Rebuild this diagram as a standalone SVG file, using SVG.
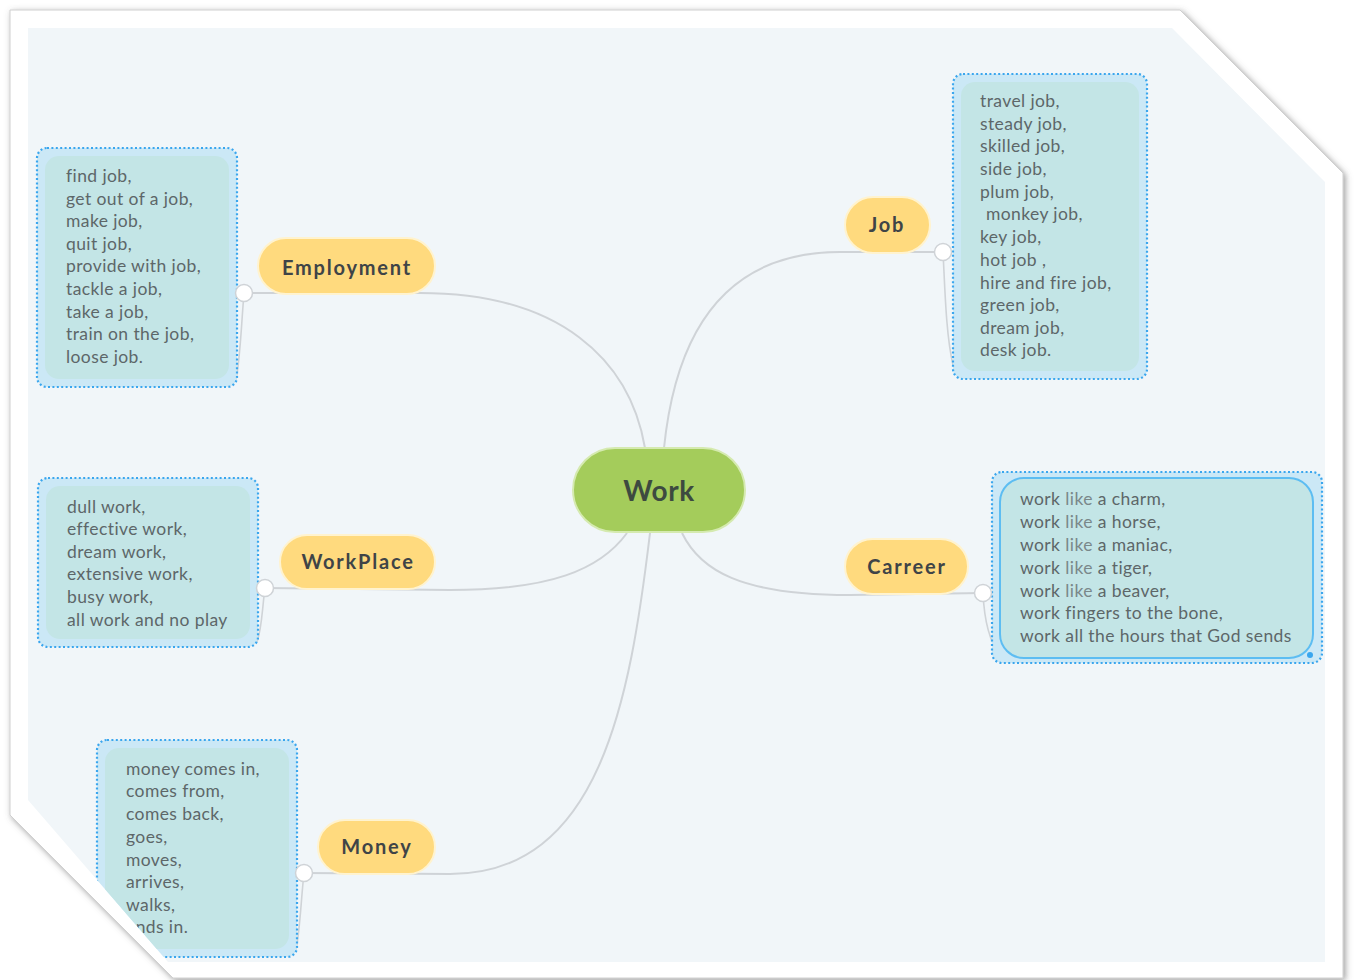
<svg xmlns="http://www.w3.org/2000/svg" width="1355" height="980" viewBox="0 0 1355 980">
<style>
.pill{fill:#ffda7e;stroke:#fff3cf;stroke-width:2}
.plabel{font-family:Lato,"Noto Sans",sans-serif;font-weight:bold;font-size:20px;fill:#3f4447;text-anchor:middle;letter-spacing:1.8px}
.box{fill:#cbe8f6;stroke:#3aa6ee;stroke-width:2.2;stroke-dasharray:2 2.4}
.inner{fill:#c3e5e6}
.txt{font-family:Lato,"Noto Sans",sans-serif;font-size:17.5px;fill:#5d6769;letter-spacing:0.4px}
.lk{fill:#7a888a}
.conn{fill:none;stroke:#cfd3d7;stroke-width:2}
.brk{fill:none;stroke:#cfd3d7;stroke-width:1.6}
.knob{fill:#ffffff;stroke:#cfd3d7;stroke-width:1.5}
</style>
<defs>
<filter id="sh" x="-5%" y="-5%" width="110%" height="110%">
<feDropShadow dx="2" dy="2" stdDeviation="3" flood-color="#5e5e5e" flood-opacity="0.6"/>
</filter>
<clipPath id="innerClip">
<polygon points="28,28 1172,28 1325,182 1325,962 168,962 28,800"/>
</clipPath>
</defs>
<rect x="0" y="0" width="1355" height="980" fill="#ffffff"/>
<polygon points="10,10 1180,10 1343,173 1343,978 173,978 10,815" fill="#ffffff" stroke="#d0d0d0" stroke-width="1" filter="url(#sh)"/>
<polygon points="28,28 1172,28 1325,182 1325,962 168,962 28,800" fill="#f1f6f9"/>
<g clip-path="url(#innerClip)">
<g id="connectors">
<path class="conn" d="M244 293 L420 293 C560 293 630 360 645 448"/>
<path class="conn" d="M943 252 L840 252 C720 252 675 340 664 448"/>
<path class="conn" d="M265 588 L450 590 C550 590 600 570 627 533"/>
<path class="conn" d="M304 873 L450 874 C600 874 630 700 650 533"/>
<path class="conn" d="M983 593 L850 595 C740 595 700 570 682 533"/>
<path class="brk" d="M244 293 C241 330 240 360 236 380"/>
<path class="brk" d="M943 252 C945 290 946 335 953 365"/>
<path class="brk" d="M265 588 C262 610 262 628 257 642"/>
<path class="brk" d="M983 593 C984 615 988 640 1000 655"/>
<path class="brk" d="M304 873 C301 900 300 930 296 950"/>
</g>
<g id="employment-notes">
<rect class="box" x="37" y="148" width="200" height="239" rx="10"/>
<rect class="inner" x="45" y="156" width="184" height="223" rx="14"/>
<text class="txt" x="66" y="182">find job,</text>
<text class="txt" x="66" y="205">get out of a job,</text>
<text class="txt" x="66" y="227">make job,</text>
<text class="txt" x="66" y="250">quit job,</text>
<text class="txt" x="66" y="272">provide with job,</text>
<text class="txt" x="66" y="295">tackle a job,</text>
<text class="txt" x="66" y="318">take a job,</text>
<text class="txt" x="66" y="340">train on the job,</text>
<text class="txt" x="66" y="363">loose job.</text>
</g>
<g id="job-notes">
<rect class="box" x="953" y="74" width="194" height="305" rx="10"/>
<rect class="inner" x="961" y="82" width="178" height="289" rx="14"/>
<text class="txt" x="980" y="107">travel job,</text>
<text class="txt" x="980" y="130">steady job,</text>
<text class="txt" x="980" y="152">skilled job,</text>
<text class="txt" x="980" y="175">side job,</text>
<text class="txt" x="980" y="198">plum job,</text>
<text class="txt" x="986" y="220">monkey job,</text>
<text class="txt" x="980" y="243">key job,</text>
<text class="txt" x="980" y="266">hot job ,</text>
<text class="txt" x="980" y="289">hire and fire job,</text>
<text class="txt" x="980" y="311">green job,</text>
<text class="txt" x="980" y="334">dream job,</text>
<text class="txt" x="980" y="356">desk job.</text>
</g>
<g id="workplace-notes">
<rect class="box" x="38" y="478" width="220" height="169" rx="10"/>
<rect class="inner" x="46" y="486" width="204" height="153" rx="14"/>
<text class="txt" x="67" y="513">dull work,</text>
<text class="txt" x="67" y="535">effective work,</text>
<text class="txt" x="67" y="558">dream work,</text>
<text class="txt" x="67" y="580">extensive work,</text>
<text class="txt" x="67" y="603">busy work,</text>
<text class="txt" x="67" y="626">all work and no play</text>
</g>
<g id="carreer-notes">
<rect class="box" x="992" y="472" width="330" height="191" rx="10"/>
<rect class="inner" x="1000" y="478" width="313" height="180" rx="24" stroke="#5dbdf2" stroke-width="2"/>
<circle cx="1310" cy="655" r="3" fill="#3aa6ee"/>
<text class="txt" x="1020" y="505">work <tspan class="lk">like</tspan> a charm,</text>
<text class="txt" x="1020" y="528">work <tspan class="lk">like</tspan> a horse,</text>
<text class="txt" x="1020" y="551">work <tspan class="lk">like</tspan> a maniac,</text>
<text class="txt" x="1020" y="574">work <tspan class="lk">like</tspan> a tiger,</text>
<text class="txt" x="1020" y="597">work <tspan class="lk">like</tspan> a beaver,</text>
<text class="txt" x="1020" y="619">work fingers to the bone,</text>
<text class="txt" x="1020" y="642">work all the hours that God sends</text>
</g>
<g id="money-notes">
<rect class="box" x="97" y="740" width="200" height="217" rx="10"/>
<rect class="inner" x="105" y="748" width="184" height="201" rx="14"/>
<text class="txt" x="126" y="775">money comes in,</text>
<text class="txt" x="126" y="797">comes from,</text>
<text class="txt" x="126" y="820">comes back,</text>
<text class="txt" x="126" y="843">goes,</text>
<text class="txt" x="126" y="866">moves,</text>
<text class="txt" x="126" y="888">arrives,</text>
<text class="txt" x="126" y="911">walks,</text>
<text class="txt" x="126" y="933">ends in.</text>
</g>
<g id="knobs">
<circle class="knob" cx="244" cy="293" r="8.5"/>
<circle class="knob" cx="943" cy="252" r="8.5"/>
<circle class="knob" cx="265" cy="588" r="8.5"/>
<circle class="knob" cx="983" cy="593" r="8.5"/>
<circle class="knob" cx="304" cy="873" r="8.5"/>
</g>
<g id="work">
<rect x="573" y="448" width="172" height="84" rx="42" fill="#a4cc5b" stroke="#d5eab0" stroke-width="2"/>
<text x="659" y="501" font-family="Lato,'Noto Sans',sans-serif" font-weight="bold" font-size="28" fill="#3d4a40" text-anchor="middle" letter-spacing="0.6">Work</text>
</g>
<g id="employment">
<rect class="pill" x="258" y="238" width="177" height="56" rx="28"/>
<text class="plabel" x="347" y="275">Employment</text>
</g>
<g id="job">
<rect class="pill" x="845" y="197" width="85" height="56" rx="28"/>
<text class="plabel" x="887" y="232">Job</text>
</g>
<g id="carreer">
<rect class="pill" x="845" y="539" width="123" height="55" rx="27.5"/>
<text class="plabel" x="907" y="574">Carreer</text>
</g>
<g id="workplace">
<rect class="pill" x="280" y="535" width="155" height="54" rx="27"/>
<text class="plabel" x="358" y="569">WorkPlace</text>
</g>
<g id="money">
<rect class="pill" x="318" y="820" width="117" height="54" rx="27"/>
<text class="plabel" x="377" y="854">Money</text>
</g>
</g>
</svg>
